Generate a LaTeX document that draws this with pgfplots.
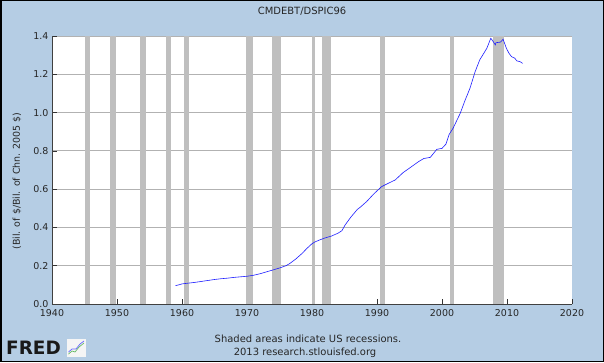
\documentclass[border=0pt]{standalone}
\usepackage{pgfplots}
\pgfplotsset{compat=1.18}
\usepackage{fontspec}
\setmainfont{DejaVu Sans}
\definecolor{bgblue}{RGB}{181,205,228}
\definecolor{recgray}{RGB}{191,191,191}
\definecolor{gridgray}{RGB}{178,178,178}
\definecolor{lineblue}{RGB}{30,30,255}
\begin{document}
\begin{tikzpicture}[x=1bp,y=1bp]
\useasboundingbox (0,0) rectangle (604,362);
\fill[bgblue] (0,0) rectangle (604,362);
\begin{axis}[
  at={(52bp,58bp)}, anchor=south west,
  width=520bp, height=268bp, scale only axis,
  xmin=1940, xmax=2020, ymin=0, ymax=1.4,
  axis background/.style={fill=white},
  axis x line*=bottom, axis y line*=left,
  axis line style={-, black!75, line width=0.8pt},
  xtick={1940,1950,...,2020},
  ytick={0,0.2,0.4,0.6,0.8,1.0,1.2,1.4},
  tick align=inside, major tick length=5bp,
  tick style={black!80, line width=0.6pt},
  ymajorgrids, grid style={gridgray, line width=0.8pt},
  /pgf/number format/assume math mode=true,
  ticklabel style={font=\fontsize{9.5}{11}\selectfont, text=black!85},
  xticklabel style={/pgf/number format/1000 sep={}, yshift=-2bp},
  yticklabel style={/pgf/number format/.cd, fixed, fixed zerofill, precision=1},
  clip=false,
]
% recession shading
\fill[recgray] (axis cs:1945.1,0) rectangle (axis cs:1945.8,1.4);
\fill[recgray] (axis cs:1948.9,0) rectangle (axis cs:1949.8,1.4);
\fill[recgray] (axis cs:1953.5,0) rectangle (axis cs:1954.4,1.4);
\fill[recgray] (axis cs:1957.6,0) rectangle (axis cs:1958.3,1.4);
\fill[recgray] (axis cs:1960.3,0) rectangle (axis cs:1961.1,1.4);
\fill[recgray] (axis cs:1969.9,0) rectangle (axis cs:1970.9,1.4);
\fill[recgray] (axis cs:1973.9,0) rectangle (axis cs:1975.2,1.4);
\fill[recgray] (axis cs:1980.0,0) rectangle (axis cs:1980.5,1.4);
\fill[recgray] (axis cs:1981.5,0) rectangle (axis cs:1982.9,1.4);
\fill[recgray] (axis cs:1990.5,0) rectangle (axis cs:1991.2,1.4);
\fill[recgray] (axis cs:2001.2,0) rectangle (axis cs:2001.9,1.4);
\fill[recgray] (axis cs:2007.9,0) rectangle (axis cs:2009.5,1.4);
\addplot[lineblue, line width=0.6bp] coordinates {
(1959.0,0.096) (1959.5,0.100) (1960.0,0.105) (1960.5,0.107) (1961.0,0.109)
(1962.0,0.113) (1963.0,0.118) (1964.0,0.123) (1965.0,0.128) (1966.0,0.132)
(1967.0,0.135) (1968.0,0.139) (1969.0,0.142) (1970.0,0.145) (1971.0,0.150)
(1972.0,0.158) (1973.0,0.168) (1974.0,0.178) (1974.5,0.183) (1975.0,0.188)
(1976.0,0.200) (1976.6,0.212) (1977.5,0.235) (1978.5,0.265) (1979.2,0.290)
(1980.0,0.315) (1980.5,0.325) (1981.2,0.335) (1982.0,0.345) (1983.0,0.355)
(1984.0,0.370) (1984.6,0.383) (1985.1,0.413) (1986.0,0.455) (1987.0,0.495)
(1987.4,0.505) (1988.4,0.535) (1989.5,0.575) (1990.7,0.613) (1991.7,0.630)
(1992.8,0.648) (1994.0,0.686) (1995.0,0.710) (1996.4,0.744) (1997.2,0.760)
(1998.2,0.766) (1999.2,0.808) (2000.0,0.813) (2000.6,0.835) (2001.1,0.886)
(2001.7,0.918) (2002.8,0.996) (2003.5,1.060) (2004.3,1.127) (2005.1,1.214)
(2005.8,1.275) (2006.9,1.336) (2007.5,1.388) (2007.8,1.375) (2008.2,1.353)
(2008.3,1.365) (2009.0,1.368) (2009.4,1.383) (2009.9,1.336) (2010.3,1.310)
(2010.7,1.292) (2011.2,1.284) (2011.5,1.270) (2012.0,1.266) (2012.4,1.257)
};
\end{axis}
\node[font=\fontsize{10}{12}\selectfont, text=black!85] at (302,351) {CMDEBT/DSPIC96};
\node[rotate=90, font=\fontsize{9.5}{11}\selectfont, text=black!85] at (17,181) {(Bil. of \$/Bil. of Chn. 2005 \$)};
\node[font=\fontsize{10}{12}\selectfont, text=black!85] at (308,23.5) {Shaded areas indicate US recessions.};
\node[font=\fontsize{10}{12}\selectfont, text=black!85] at (305,9) {2013 research.stlouisfed.org};
% FRED logo
\node[anchor=west, inner sep=0pt, font=\fontsize{18.5}{20}\bfseries\selectfont, text=black!90] at (6,14) {FRED};
\fill[white!92!gray] (67,5) rectangle (86,23);
\draw[green!55!black!60, line width=0.7bp] (68.5,8) -- (72,11) -- (75,10) -- (79,15) -- (84,19);
\draw[blue!60, line width=0.7bp] (68.5,10) -- (72,13) -- (76,13) -- (80,18) -- (84,21);
\draw[black, line width=1.5bp] (0.75,0.75) rectangle (603.25,361.25);
\end{tikzpicture}
\end{document}
